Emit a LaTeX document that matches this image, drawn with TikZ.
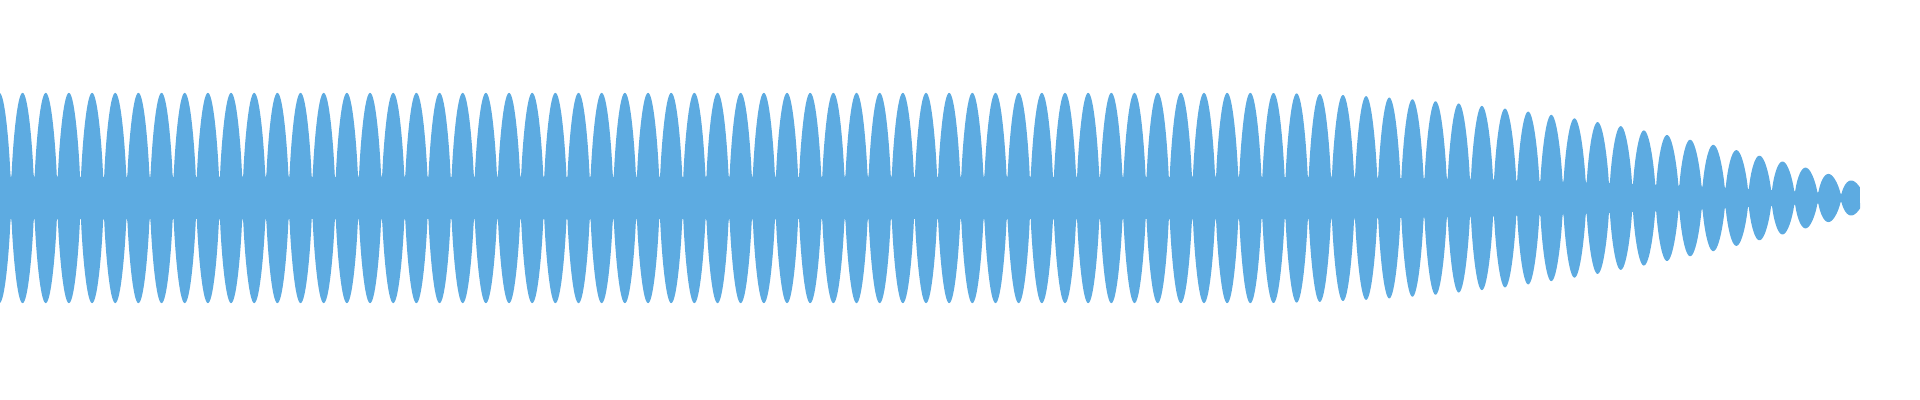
\documentclass[tikz,border=0pt]{standalone}
\definecolor{wave}{HTML}{5DABE1}
\begin{document}
\begin{tikzpicture}[x=0.01cm,y=0.01cm,
  declare function={
    amp(\t)=(\t<1250)*105+(\t>=1250)*(105-87*((max(\t,1250)-1250)/600)^2);
    env(\t)=max(0.2*amp(\t), amp(\t)*(abs(sin(7.7704*mod(\t+12.165,23.165)))+0.001)^0.6);
  }]
\useasboundingbox (0,-202) rectangle (1920,198);
\fill[wave] plot[domain=0:1860,samples=4000] (\x,{env(\x)})
  -- plot[domain=1860:0,samples=4000] (\x,{-env(\x)}) -- cycle;
\end{tikzpicture}
\end{document}
